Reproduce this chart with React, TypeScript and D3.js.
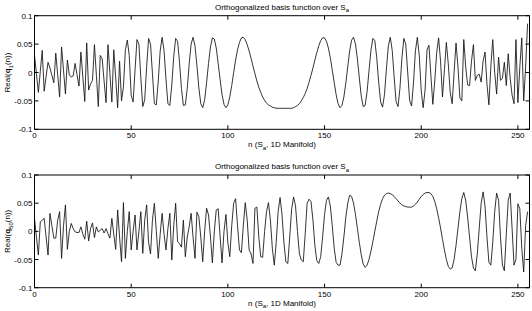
import React from "react";
import * as d3 from "d3";

// Sample values (in thousandths), n = 0..255
const q1Milli = [
  30, -2, -35, 2, 39, -33, -7, 18, 8, -5,
  -18, 34, -4, -43, 45, 4, -38, 22, -4, -8,
  -6, 16, -4, -24, 36, -8, -51, 52, -31, -20,
  -14, 49, -5, -60, 30, 24, -15, -53, 49, -2,
  -52, 40, -10, -62, 20, -50, -25, 40, 57, 30,
  -40, -52, 5, 58, 50, -10, -60, -48, 10, 60,
  50, -2, -55, -57, -15, 38, 62, 38, -12, -55,
  -58, -22, 28, 60, 55, 18, -28, -58, -57, -28,
  15, 50, 62, 47, 12, -27, -55, -62, -48, -18,
  16, 45, 61, 59, 43, 16, -13, -39, -56, -62,
  -57, -43, -23, 0, 22, 40, 53, 61, 62, 58,
  49, 38, 25, 11, -2, -15, -26, -35, -43, -49,
  -54, -57, -59, -61, -62, -63, -63, -63, -63, -63,
  -63, -63, -63, -63, -62, -60, -58, -55, -50, -44,
  -37, -28, -17, -5, 8, 22, 35, 47, 56, 61,
  61, 55, 43, 26, 4, -18, -39, -55, -62, -58,
  -43, -19, 10, 38, 57, 62, 50, 24, -10, -42,
  -60, -58, -34, 3, 39, 60, 56, 26, -17, -52,
  -61, -39, 6, 47, 62, 39, -8, -51, -60, -28,
  25, 60, 50, 1, -49, -59, -19, 38, 62, 29,
  -32, -62, -31, 40, 48, -5, -56, -15, 35, 61,
  20, -43, 5, 53, 15, -35, -55, 0, 52, 10,
  -45, -50, 58, 10, -22, -23, 20, 49, -14, -5,
  -3, -17, 20, 36, -20, -57, 10, 58, 0, -38,
  27, -14, -10, 18, -23, 33, -10, -40, -55, 58,
  -53, 10, 61, -50, 10, 86,
];

const q50Milli = [
  23, -10, -42, 17, 20, 23, -10, -42, 32, 10,
  -12, -12, 20, 35, -48, 10, 47, -32, 0, 14,
  5, -1, -2, -2, 8, -5, -14, 18, -17, 5,
  15, -11, 8, -1, 2, 5, -3, 5, -4, -12,
  23, -5, -32, 38, -10, -54, 51, -48, 0, 35,
  -33, 0, 29, -33, 0, 35, -39, 20, 47, -20,
  -40, 20, 50, 0, -48, -5, 32, -5, -33, 5,
  32, -51, 10, 50, -18, -22, -28, 20, -45, -10,
  8, 32, -10, -48, 34, 26, -10, -54, 0, 41,
  29, -10, -56, 0, 38, 40, -10, -56, 0, 30,
  -20, -45, 10, 50, 58, 10, -33, -38, 10, 51,
  20, -33, -40, -57, 41, 43, -10, -45, -46, 0,
  35, 51, 20, -30, -60, -20, 35, 60, 30, -20,
  -54, -57, -10, 40, 61, 45, 0, -40, -51, -54,
  -5, 50, 57, 53, 20, -25, -52, -57, -45, -10,
  30, 55, 61, 45, 10, -30, -55, -60, -60, -40,
  -10, 25, 50, 64, 62, 50, 30, 5, -20, -42,
  -58, -64, -60, -50, -35, -18, 0, 18, 35, 48,
  58, 64, 67, 68, 67, 65, 62, 58, 54, 50,
  47, 45, 44, 43, 43, 43, 45, 48, 52, 57,
  62, 65, 68, 69, 69, 67, 62, 53, 40, 24,
  6, -14, -33, -50, -62, -67, -65, -50, -25, 5,
  35, 58, 69, 55, 25, -10, -45, -65, -70, -40,
  5, 50, 70, 45, -10, -55, -60, -20, 35, 68,
  55, -10, -60, -70, -5, 55, 68, 5, -60, -50,
  49, 40, -30, -72, 10, 35,
];

const xTicks = [0, 50, 100, 150, 200, 250];
const yTicks = [-0.1, -0.05, 0, 0.05, 0.1];
const yTickLabels = ["-0.1", "-0.05", "0", "0.05", "0.1"];
const xDomain = [0, 256];
const yDomain = [-0.1, 0.1];

const FONT = "'Liberation Sans', Arial, Helvetica, sans-serif";
const LEFT = 34.5;
const RIGHT = 529.5;

type PanelProps = { top: number; bottom: number; data: number[]; sub: string };

function Panel({ top, bottom, data, sub }: PanelProps) {
  const x = d3.scaleLinear().domain(xDomain).range([LEFT, RIGHT]);
  const y = d3.scaleLinear().domain(yDomain).range([bottom, top]);
  const line = d3
    .line<number>()
    .x((_, i) => x(i))
    .y((d) => y(d / 1000));
  const tl = 4;
  const midY = (top + bottom) / 2;
  return (
    <g>
      <text x={(LEFT + RIGHT) / 2} y={top - 6} textAnchor="middle" fontSize={8} fontFamily={FONT}>
        Orthogonalized basis function over S
        <tspan dy={2.5} fontSize={6}>a</tspan>
      </text>
      <path d={line(data) || ""} fill="none" stroke="#111" strokeWidth={0.85} strokeLinejoin="miter" />
      <rect x={LEFT} y={top} width={RIGHT - LEFT} height={bottom - top} fill="none" stroke="#000" strokeWidth={1} />
      {xTicks.map((t) => (
        <g key={"x" + t}>
          <line x1={x(t)} x2={x(t)} y1={bottom} y2={bottom - tl} stroke="#000" />
          <line x1={x(t)} x2={x(t)} y1={top} y2={top + tl} stroke="#000" />
          <text x={x(t)} y={bottom + 9} textAnchor="middle" fontSize={8} fontFamily={FONT}>
            {t}
          </text>
        </g>
      ))}
      {yTicks.map((t, i) => (
        <g key={"y" + t}>
          <line x1={LEFT} x2={LEFT + tl} y1={y(t)} y2={y(t)} stroke="#000" />
          <line x1={RIGHT} x2={RIGHT - tl} y1={y(t)} y2={y(t)} stroke="#000" />
          <text x={LEFT - 2} y={y(t) + 3} textAnchor="end" fontSize={8} fontFamily={FONT}>
            {yTickLabels[i]}
          </text>
        </g>
      ))}
      <text x={(LEFT + RIGHT) / 2} y={bottom + 18} textAnchor="middle" fontSize={8} fontFamily={FONT}>
        n (S<tspan dy={2.5} fontSize={6}>a</tspan>
        <tspan dy={-2.5}>, 1D Manifold)</tspan>
      </text>
      <text
        transform={`translate(10, ${midY}) rotate(-90)`}
        textAnchor="middle"
        fontSize={8}
        fontFamily={FONT}
      >
        Real(<tspan fontWeight="bold">q</tspan>
        <tspan dy={2.5} fontSize={6}>{sub}</tspan>
        <tspan dy={-2.5}>(n))</tspan>
      </text>
    </g>
  );
}

export default function App() {
  return (
    <svg width={532} height={311} style={{ position: "absolute", left: 0, top: 0, background: "#fff" }}>
      <rect x={0} y={0} width={532} height={311} fill="#fff" />
      <Panel top={15.7} bottom={129.3} data={q1Milli} sub="1" />
      <Panel top={175} bottom={287.7} data={q50Milli} sub="50" />
    </svg>
  );
}
